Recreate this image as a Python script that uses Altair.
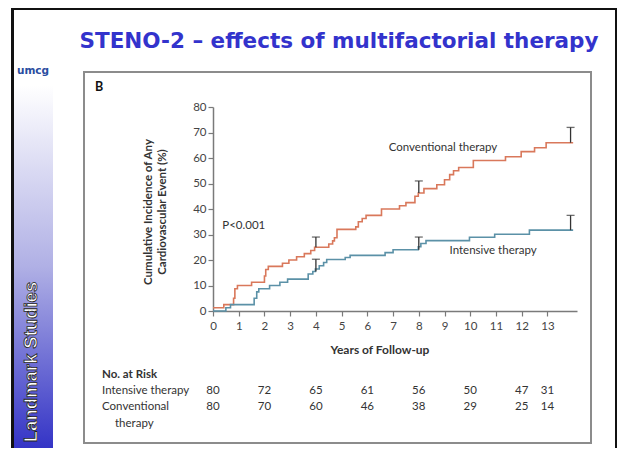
import altair as alt
import pandas as pd

# ---------------- data ----------------
series = ["Conventional therapy", "Intensive therapy"]
colors = ["#d9785b", "#5b91a7"]

conv_t = [0, 0.42, 0.80, 0.85, 0.95, 1.50, 2.00, 2.05, 2.15, 2.70, 2.95, 3.25, 3.55,
          3.80, 3.95, 4.50, 4.65, 4.72, 4.82, 5.55, 5.65, 5.80, 5.95, 6.55, 7.25, 7.50,
          7.85, 7.98, 8.20, 8.70, 9.00, 9.20, 9.35, 9.55, 10.12, 11.37, 11.98, 12.50,
          12.95, 14.0]
conv_v = [1.25, 2.5, 5.0, 8.75, 10.0, 11.25, 13.75, 16.25, 17.5, 18.75, 20.0, 21.25, 22.5,
          23.75, 25.0, 26.25, 27.5, 28.75, 32.0, 33.0, 35.0, 36.25, 37.5, 40.0, 41.25, 42.5,
          45.0, 46.25, 48.0, 49.5, 51.5, 53.5, 55.0, 56.25, 59.0, 60.5, 62.5, 64.0,
          66.0, 66.0]

int_t = [0, 0.50, 0.68, 1.60, 1.70, 1.78, 2.20, 2.60, 2.90, 3.70, 3.88, 3.98, 4.13, 4.30,
         4.42, 5.14, 5.33, 6.69, 7.00, 7.98, 8.08, 8.28, 9.97, 10.95, 12.30, 14.0]
int_v = [0, 1.25, 2.5, 5.0, 7.5, 8.75, 10.0, 11.25, 12.5, 14.5, 15.5, 16.5, 17.75, 19.0,
         20.2, 21.0, 21.8, 22.9, 24.0, 25.2, 26.5, 27.6, 28.9, 30.1, 31.7, 31.7]

bar_t = [4.0, 8.0, 13.9]
conv_lo = [25.0, 46.25, 66.0]
conv_hi = [29.0, 51.0, 72.0]
int_lo = [15.5, 24.0, 31.7]
int_hi = [20.3, 29.0, 37.5]

risk_t = [0, 2, 4, 6, 8, 10, 12, 13]
risk_int = [80, 72, 65, 61, 56, 50, 47, 31]
risk_conv = [80, 70, 60, 46, 38, 29, 25, 14]

x_ticks = list(range(0, 14))
y_ticks = list(range(0, 81, 10))

curves = pd.DataFrame({
    "t": conv_t + int_t,
    "v": conv_v + int_v,
    "series": [series[0]] * len(conv_t) + [series[1]] * len(int_t),
})
bars = pd.DataFrame({"t": bar_t * 2, "lo": conv_lo + int_lo, "hi": conv_hi + int_hi})
risk_i = pd.DataFrame({"t": risk_t, "n": risk_int})
risk_c = pd.DataFrame({"t": risk_t, "n": risk_conv})

# ---------------- layout helpers (page pixel -> plot offset) ----------------
X0, Y0 = 213, 107
FONT = "Lato"


def vx(p):
    return alt.value(p - X0)


def vy(p):
    return alt.value(p - Y0)


one = alt.Data(values=[{"k": 0}])

xs = alt.Scale(domain=[0, 14.15], nice=False, zero=False)
ys = alt.Scale(domain=[0, 80], nice=False)
xaxis = alt.Axis(values=x_ticks, title=None, labelPadding=4, tickSize=5,
                 labelFlush=False, labelOverlap=False)
yaxis = alt.Axis(values=y_ticks, title=None, labelPadding=2, tickSize=5,
                 labelFlush=False, labelOverlap=False)


def X(field):
    return alt.X(field, type="quantitative", scale=xs, axis=xaxis)


def Y(field):
    return alt.Y(field, type="quantitative", scale=ys, axis=yaxis)


def rect(x1, x2, y1, y2, **kw):
    return alt.Chart(one).mark_rect(**kw).encode(x=vx(x1), x2=vx(x2), y=vy(y1), y2=vy(y2))


def label(txt, x, y, **kw):
    opts = dict(font=FONT, fontSize=11.5, color="#333333", align="left", baseline="middle")
    opts.update(kw)
    return alt.Chart(one).mark_text(text=txt, **opts).encode(x=vx(x), y=vy(y))


# ---------------- slide decorations ----------------
gradient = alt.LinearGradient(
    gradient="linear",
    stops=[alt.GradientStop(color="#ffffff", offset=0),
           alt.GradientStop(color="#b0b0e5", offset=0.5),
           alt.GradientStop(color="#3434c6", offset=1)],
    x1=0, x2=0, y1=0, y2=1,
)
sidebar = rect(13, 53, 85, 448, fill=gradient)
black_left = rect(11, 14, 8, 448, color="#111111")
black_top = rect(11, 617, 8, 10, color="#111111")
black_right = rect(615, 617, 8, 448, color="#111111")
frame = rect(84, 591, 72, 443, fill="white", fillOpacity=0, stroke="#8c8c8c", strokeWidth=2)

title = label("STENO-2 \u2013 effects of multifactorial therapy", 339, 48,
              font="DejaVu Sans", fontWeight="bold", fontSize=21.5, color="#3333cc",
              align="center", baseline="alphabetic")
umcg = label("umcg", 33, 74, font="DejaVu Sans", fontWeight="bold", fontSize=10.5,
             color="#2a4da0", align="center", baseline="alphabetic")
landmark = alt.Chart(one).mark_text(
    text="Landmark Studies", font="Liberation Sans", fontWeight="bold",
    fontSize=18.5, fill="white", stroke="#222222", strokeWidth=0.8, angle=270,
    align="center", baseline="alphabetic",
).encode(x=vx(37), y=vy(362))

panel_b = label("B", 95, 91, fontWeight="bold", fontSize=12.5, color="#111111",
                baseline="alphabetic")
ytitle1 = label("Cumulative Incidence of Any", 149, 212, fontWeight="bold", angle=270,
                align="center")
ytitle2 = label("Cardiovascular Event (%)", 163, 212, fontWeight="bold", angle=270,
                align="center")
xtitle = label("Years of Follow-up", 380, 350, fontWeight="bold", fontSize=12,
               align="center")

risk_head = label("No. at Risk", 102, 375, fontWeight="bold")
risk_l1 = label("Intensive therapy", 102, 391)
risk_l2 = label("Conventional", 102, 407)
risk_l3 = label("therapy", 115, 424)

# ---------------- data layers ----------------
lines = alt.Chart(curves).mark_line(interpolate="step-after", strokeWidth=1.6).encode(
    x=X("t"),
    y=Y("v"),
    color=alt.Color("series:N", scale=alt.Scale(domain=series, range=colors), legend=None),
)

rules = alt.Chart(bars).mark_rule(color="#333333", strokeWidth=1.3).encode(
    x=X("t"), y=Y("lo"), y2="hi:Q",
)
caps = alt.Chart(bars).mark_tick(orient="horizontal", color="#333333", size=8,
                                 thickness=1.3).encode(x=X("t"), y=Y("hi"))

conv_lab = alt.Chart(one).mark_text(text="Conventional therapy", font=FONT, fontSize=11.5,
                                    color="#333333").encode(
    x=alt.datum(8.94, scale=xs, axis=xaxis), y=alt.datum(63.9, scale=ys, axis=yaxis))
int_lab = alt.Chart(one).mark_text(text="Intensive therapy", font=FONT, fontSize=11.5,
                                   color="#333333").encode(
    x=alt.datum(10.89, scale=xs, axis=xaxis), y=alt.datum(23.5, scale=ys, axis=yaxis))
p_lab = alt.Chart(one).mark_text(text="P<0.001", font=FONT, fontSize=11.5, color="#333333",
                                 align="left").encode(
    x=alt.datum(0.36, scale=xs, axis=xaxis), y=alt.datum(33.3, scale=ys, axis=yaxis))

risk_txt_i = alt.Chart(risk_i).mark_text(font=FONT, fontSize=11.5, color="#333333").encode(
    x=X("t"), y=vy(391), text="n:Q")
risk_txt_c = alt.Chart(risk_c).mark_text(font=FONT, fontSize=11.5, color="#333333").encode(
    x=X("t"), y=vy(407), text="n:Q")

chart = alt.layer(
    sidebar, black_left, black_top, black_right, frame,
    title, umcg, landmark, panel_b, ytitle1, ytitle2, xtitle,
    risk_head, risk_l1, risk_l2, risk_l3,
    lines, rules, caps, conv_lab, int_lab, p_lab, risk_txt_i, risk_txt_c,
).properties(
    width=364, height=204,
    padding={"left": 205, "top": 99, "right": 40, "bottom": 137},
    autosize=alt.AutoSizeParams(type="none"),
    background="white",
).configure_axis(
    grid=False, domainColor="#7a7a7a", domainWidth=1.5, tickColor="#7a7a7a",
    tickWidth=1.2, labelFont=FONT, labelFontSize=11.5, labelColor="#444444",
).configure_view(stroke=None)

chart.save("out.html", embed_options={"renderer": "svg", "actions": False})
